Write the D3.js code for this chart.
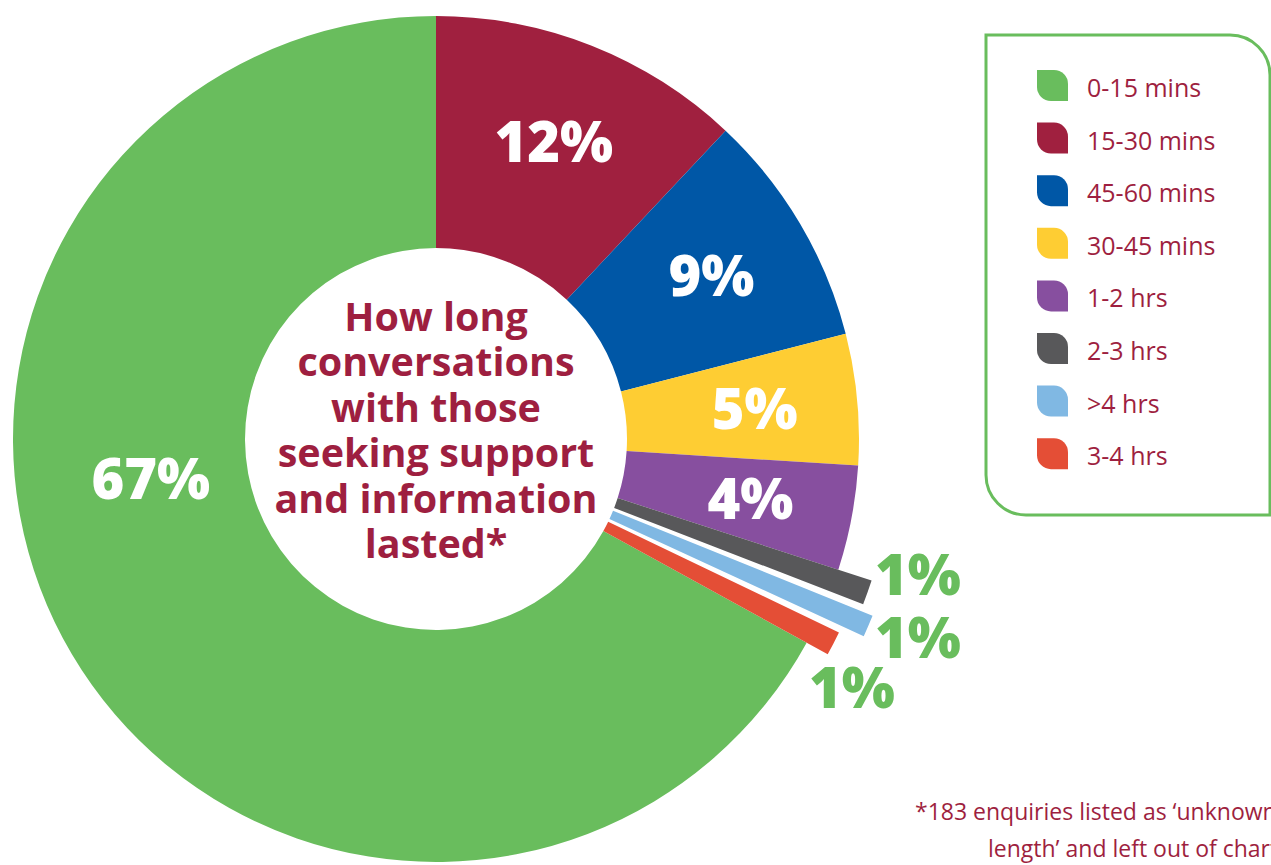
<!DOCTYPE html>
<html>
<head>
<meta charset="utf-8">
<script src="https://cdn.jsdelivr.net/npm/d3@7"></script>
<style>
  html, body { margin: 0; padding: 0; background: #fff; }
  svg { display: block; }
</style>
</head>
<body>
<svg id="chart" width="1271" height="865"></svg>
<script>
// data, in legend order
const categories = ["0-15 mins", "15-30 mins", "45-60 mins", "30-45 mins", "1-2 hrs", "2-3 hrs", ">4 hrs", "3-4 hrs"];
const values = [67, 12, 9, 5, 4, 1, 1, 1];
const labels = ["67%", "12%", "9%", "5%", "4%", "1%", "1%", "1%"];
const colors = ["#69bd5d", "#a0203f", "#0057a6", "#fecd33", "#874f9f", "#58585a", "#80b8e3", "#e44e36"];
const titleLines = ["How long", "conversations", "with those", "seeking support", "and information", "lasted*"];
const footnoteLines = ["*183 enquiries listed as \u2018unknown", "length\u2019 and left out of chart"];

const crimson = "#9e1f40";
const green = "#69bd5d";

let svg = d3.select("#chart");
let cx = 436, cy = 439;
let innerR = 191, outerR = 423;

// the thin slices stick out further than the rest
let smallOuter = {"2-3 hrs": 458, ">4 hrs": 471, "3-4 hrs": 447};
let gap = 0.9 * Math.PI / 180;

let total = d3.sum(values);
let start = -values[0] / total * 2 * Math.PI;
let pie = d3.pie().sort(null).startAngle(start).endAngle(start + 2 * Math.PI);
let arcs = pie(values).map((a, i) => {
  a.cat = categories[i];
  a.color = colors[i];
  a.label = labels[i];
  return a;
});

// trim the thin slices so a white gap shows between them
let smallIdx = arcs.map((a, i) => i).filter(i => smallOuter[arcs[i].cat]);
smallIdx.forEach((i, k) => {
  let a = arcs[i];
  a.drawStart = k > 0 ? a.startAngle + gap / 2 : a.startAngle;
  a.drawEnd = k < smallIdx.length - 1 ? a.endAngle - gap / 2 : a.endAngle;
});

let g = svg.append("g").attr("transform", "translate(" + cx + "," + cy + ")");

g.selectAll("path.slice")
  .data(arcs)
  .enter().append("path")
  .attr("class", "slice")
  .attr("d", d => {
    let o = smallOuter[d.cat] || outerR;
    return d3.arc()
      .innerRadius(innerR)
      .outerRadius(o)
      .startAngle(d.drawStart !== undefined ? d.drawStart : d.startAngle)
      .endAngle(d.drawEnd !== undefined ? d.drawEnd : d.endAngle)();
  })
  .style("fill", d => d.color);

let labelFont = "'Open Sans', Lato, sans-serif";

// labels inside the big slices
let labelArc = d3.arc().innerRadius(320).outerRadius(320);
let bigArcs = arcs.filter(d => !smallOuter[d.cat]);
g.selectAll("text.big")
  .data(bigArcs)
  .enter().append("text")
  .attr("class", "big")
  .attr("transform", d => {
    if (d.cat === "0-15 mins") {
      // biggest slice label sits out to the left
      let a = 262 * Math.PI / 180, r = 288;
      return "translate(" + (r * Math.sin(a)) + "," + (-r * Math.cos(a)) + ")";
    }
    return "translate(" + labelArc.centroid(d) + ")";
  })
  .attr("text-anchor", "middle")
  .attr("dy", "0.36em")
  .style("font-family", labelFont)
  .style("font-weight", 800)
  .style("font-size", "56px")
  .style("fill", "#fff")
  .text(d => d.label);

// labels next to the thin slices
let smallLabelPos = {"2-3 hrs": [482, 156], ">4 hrs": [482, 219], "3-4 hrs": [416, 269]};
g.selectAll("text.small")
  .data(arcs.filter(d => smallOuter[d.cat]))
  .enter().append("text")
  .attr("class", "small")
  .attr("x", d => smallLabelPos[d.cat][0])
  .attr("y", d => smallLabelPos[d.cat][1])
  .attr("text-anchor", "middle")
  .style("font-family", labelFont)
  .style("font-weight", 800)
  .style("font-size", "56px")
  .style("fill", green)
  .text(d => d.label);

// centre title
g.append("text")
  .attr("text-anchor", "middle")
  .style("font-family", "'Open Sans', sans-serif")
  .style("font-weight", 700)
  .style("font-size", "39.5px")
  .style("fill", crimson)
  .selectAll("tspan")
  .data(titleLines)
  .enter().append("tspan")
  .attr("x", 0)
  .attr("y", (d, i) => -108 + i * 45.4)
  .text(d => d);

// legend box
let lx = 986, ly = 35, lw = 284, lh = 480, lr = 40;
svg.append("path")
  .attr("d", "M" + lx + "," + ly + " H" + (lx + lw - lr) +
    " A" + lr + "," + lr + " 0 0 1 " + (lx + lw) + "," + (ly + lr) +
    " V" + (ly + lh) + " H" + (lx + lr) +
    " A" + lr + "," + lr + " 0 0 1 " + lx + "," + (ly + lh - lr) + " Z")
  .style("fill", "none")
  .style("stroke", green)
  .style("stroke-width", 3);

let legendY = d3.scaleBand().domain(categories).range([70, 70 + 52.6 * categories.length]);
let s = 31, sr = 14;
function leaf(x, y) {
  return "M" + x + "," + y + " H" + (x + s - sr) +
    " A" + sr + "," + sr + " 0 0 1 " + (x + s) + "," + (y + sr) +
    " V" + (y + s) + " H" + (x + sr) +
    " A" + sr + "," + sr + " 0 0 1 " + x + "," + (y + s - sr) + " Z";
}
let items = svg.append("g").selectAll("g")
  .data(categories)
  .enter().append("g")
  .attr("transform", d => "translate(1037," + legendY(d) + ")");
items.append("path")
  .attr("d", leaf(0, 0))
  .style("fill", (d, i) => colors[i]);
items.append("text")
  .attr("x", 50)
  .attr("y", 27)
  .style("font-family", "'Open Sans', sans-serif")
  .style("font-size", "25px")
  .style("fill", crimson)
  .text(d => d);

// footnote (runs off the right edge like the original)
svg.append("g").selectAll("text")
  .data(footnoteLines)
  .enter().append("text")
  .attr("x", (d, i) => i === 0 ? 915 : 988)
  .attr("y", (d, i) => 820 + i * 37)
  .style("font-family", "'Open Sans', sans-serif")
  .style("font-size", "23px")
  .style("fill", crimson)
  .text(d => d);
</script>
</body>
</html>
